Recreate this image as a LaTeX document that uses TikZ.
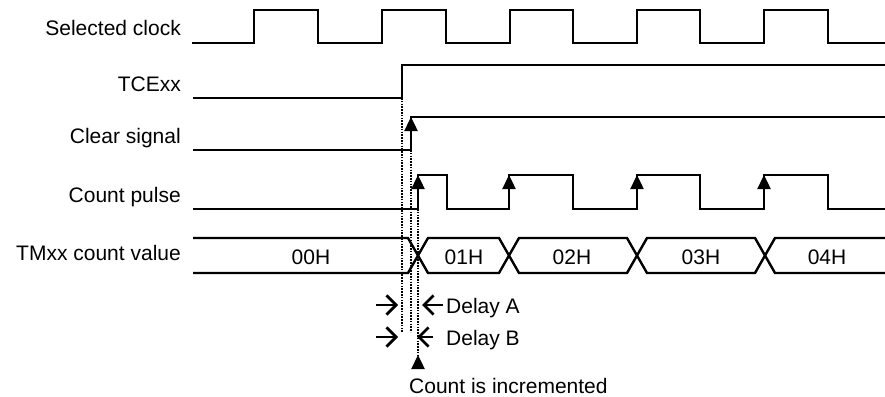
\documentclass[tikz,border=0pt]{standalone}
\usepackage{fontspec}
\setmainfont{Liberation Sans}
\usetikzlibrary{positioning, calc, arrows.meta}
\tikzset{
    Wave/.style = {line width=2.4pt, line join=miter},
    Guide/.style = {line width=2.4pt, dash pattern=on 1.6pt off 1.2pt},
    Rise/.style = {line width=2.4pt, -{Triangle[length=14pt, width=13pt]}},
    Gap/.style = {line width=2.8pt, -{Straight Barb[scale=1.35]}},
    Lbl/.style = {anchor=base east, inner sep=0pt},
    Val/.style = {anchor=base, inner sep=0pt}
}

\begin{document}
\begin{tikzpicture}[x=1pt, y=-1pt, font=\fontsize{21}{25}\selectfont]
    \useasboundingbox (0,0) rectangle (885,396);
    % signal names
    \node[Lbl] (lClk) at (181,36) {Selected clock};
    \node[Lbl] (lTce) at (181,91) {TCExx};
    \node[Lbl] (lClr) at (181,143) {Clear signal};
    \node[Lbl] (lCnt) at (181,202) {Count pulse};
    \node[Lbl] (lTm) at (181,260) {TMxx count value};
    % waveforms
    \draw[Wave] (192,43) -| (254,10) -| (318,43) -| (382,10) -| (446,43) -| (510,10)
        -| (573,43) -| (637,10) -| (700,43) -| (764,10) -| (828,43) -- (885,43);
    \draw[Wave] (193,98) -| (402,65) -- (885,65);
    \draw[Wave] (193,150) -| (411,117) -- (885,117);
    \draw[Wave] (193,209) -| (418,175) -| (447,209) -| (509,175) -| (573,209) -| (637,175)
        -| (700,209) -| (764,175) -| (828,209) -- (885,209);
    \draw[Rise] (411,150) -- (411,117);
    \draw[Rise] (418,209) -- (418,175);
    \draw[Rise] (509,209) -- (509,175);
    \draw[Rise] (637,209) -- (637,175);
    \draw[Rise] (764,209) -- (764,175);
    % count value bus
    \draw[Wave] (193,238) -- (408,238) -- (428,273) -- (499,273) -- (519,238) -- (627,238)
        -- (647,273) -- (755,273) -- (775,238) -- (885,238);
    \draw[Wave] (193,273) -- (408,273) -- (428,238) -- (499,238) -- (519,273) -- (627,273)
        -- (647,238) -- (755,238) -- (775,273) -- (885,273);
    \node[Val] (v0) at (311,264) {00H};
    \node[Val] (v1) at (464,264) {01H};
    \node[Val] (v2) at (572,264) {02H};
    \node[Val] (v3) at (701,264) {03H};
    \node[Val] (v4) at (827,264) {04H};
    % delays
    \coordinate (tce) at (402,98);
    \coordinate (clr) at (411,150);
    \coordinate (cnt) at (418,209);
    \draw[Guide] (tce) -- (tce |- 0,332);
    \draw[Guide] (clr) -- (clr |- 0,332);
    \draw[Guide] (cnt) -- (cnt |- 0,355);
    \draw[Gap] (376,305) -- (398,305);
    \draw[Gap] (443,305) -- (422,305);
    \draw[Gap] (376,337) -- (398,337);
    \draw[Gap] (433,337) -- (417,337);
    \node[anchor=base west, inner sep=0pt] (dA) at (446,313) {Delay A};
    \node[anchor=base west, inner sep=0pt] (dB) at (446,345) {Delay B};
    \node[anchor=base west, inner sep=0pt] (inc) at (409,393) {Count is incremented};
    \coordinate (incTip) at (418,368);
    \draw[Rise] (incTip) -- ++(0,-13);
\end{tikzpicture}
\end{document}
